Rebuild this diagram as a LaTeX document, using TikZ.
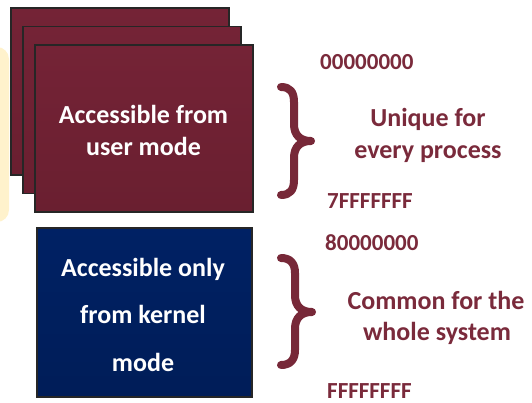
\documentclass[tikz,border=0pt]{standalone}
\usepackage{fontspec}
\setmainfont{Carlito}
\definecolor{maroonT}{HTML}{742336}
\definecolor{maroonB}{HTML}{6A1F30}
\definecolor{navyT}{HTML}{002164}
\definecolor{navyB}{HTML}{001D58}
\definecolor{bracecol}{HTML}{772838}
\definecolor{labelcol}{HTML}{7A2A3B}
\definecolor{paleyellow}{HTML}{FFF2CC}
\tikzset{
  page/.style={x=1pt,y=-1pt},
  membox/.style={rectangle,inner sep=0pt,draw=black!85,line width=1.5pt},
  userbox/.style={membox,top color=maroonT,bottom color=maroonB,
                  minimum width=218pt,minimum height=167pt},
  kernelbox/.style={membox,top color=navyT,bottom color=navyB,
                  minimum width=215pt,minimum height=169pt},
  boxtext/.style={anchor=base,inner sep=0pt,text=white,
                  font=\fontsize{26}{32}\selectfont\bfseries},
  sidetext/.style={anchor=base,inner sep=0pt,text=labelcol,
                  font=\fontsize{26}{32}\selectfont\bfseries},
  addr/.style={anchor=base west,inner sep=0pt,text=labelcol,
                  font=\fontsize{23}{28}\selectfont\bfseries},
  curly/.style={draw=bracecol,line width=8pt,line cap=round,line join=round},
}
\begin{document}
\begin{tikzpicture}[page]
\useasboundingbox (0,0) rectangle (532,403);
% pale band at the left margin
\fill[paleyellow,rounded corners=12pt] (-20,47) rectangle (9,222);

% stack of per-process address spaces
\node[userbox] (back1) at (120,91.5) {};
\node[userbox] (back2) at (132,110) {};
\node[userbox] (user)  at (144,128.5) {};
\node[boxtext] (u1) at (143.5,124) {Accessible from};
\node[boxtext] (u2) at (143.5,156) {user mode};

% system address space
\node[kernelbox] (kernel) at (144.5,312.5) {};
\node[boxtext] (k1) at (143,276) {Accessible only};
\node[boxtext] (k2) at (143,323.5) {from kernel};
\node[boxtext] (k3) at (143,371) {mode};

% braces
\draw[curly] (281,87) .. controls (290,87) and (294,92) .. (294,102)
  -- (294,124) .. controls (294,135) and (300,141) .. (311,141)
  .. controls (300,141) and (294,147) .. (294,158)
  -- (294,180) .. controls (294,190) and (290,195) .. (281,195);
\draw[curly] (281,258) .. controls (290,258) and (295,263) .. (295,273)
  -- (295,295) .. controls (295,306) and (301,312) .. (312,312)
  .. controls (301,312) and (295,318) .. (295,329)
  -- (295,350) .. controls (295,360) and (290,365) .. (281,365);

% address labels
\node[addr] (a0) at (320,70)  {00000000};
\node[addr] (a1) at (327,208) {7FFFFFFF};
\node[addr] (a2) at (325,250) {80000000};
\node[addr] (a3) at (327,398) {FFFFFFFF};

% range descriptions
\node[sidetext] (s1) at (428,127) {Unique for};
\node[sidetext] (s2) at (428,159) {every process};
\node[sidetext] (s3) at (436,309) {Common for the};
\node[sidetext] (s4) at (437,340) {whole system};
\end{tikzpicture}
\end{document}
